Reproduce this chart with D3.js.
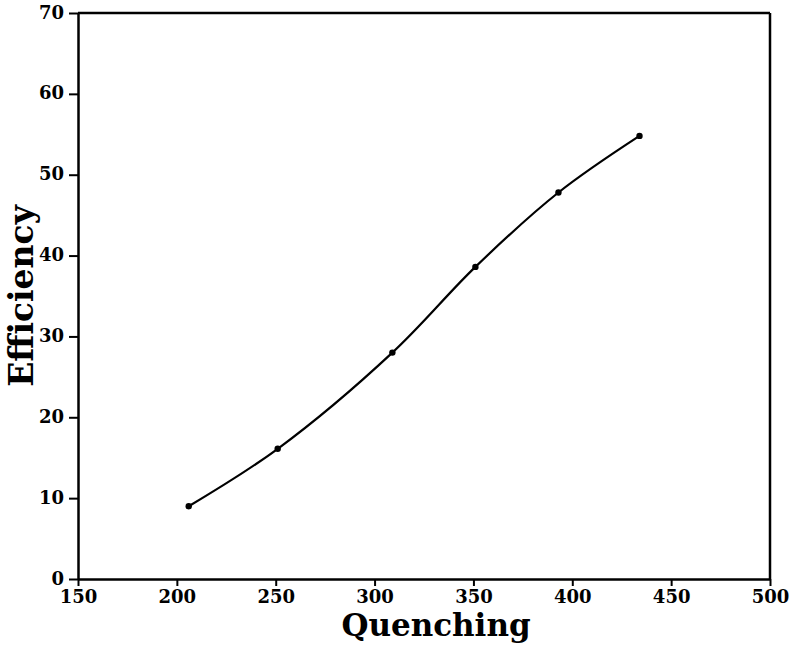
<!DOCTYPE html>
<html>
<head>
<meta charset="utf-8">
<script src="https://cdn.jsdelivr.net/npm/d3@7"></script>
<style>
  body { margin: 0; background: #fff; }
  text { font-family: "DejaVu Serif", "Liberation Serif", serif; font-weight: bold; fill: #000; }
</style>
</head>
<body>
<svg id="chart"></svg>
<script>
const quenching = [206, 251, 309, 351, 393, 434];
const efficiency = [9.0, 16.1, 28.0, 38.6, 47.8, 54.8];
const xTicks = [150, 200, 250, 300, 350, 400, 450, 500];
const yTicks = [0, 10, 20, 30, 40, 50, 60, 70];

const width = 791, height = 645;
const margin = { top: 13, right: 21, bottom: 66, left: 78 };
const w = width - margin.left - margin.right;
const h = height - margin.top - margin.bottom;

const svg = d3.select('#chart')
  .attr('width', width)
  .attr('height', height);

const g = svg.append('g')
  .attr('transform', `translate(${margin.left},${margin.top})`);

const x = d3.scaleLinear().domain([150, 500]).range([0, w]);
const y = d3.scaleLinear().domain([0, 70]).range([h, 0]);

// frame (top and right)
g.append('line').attr('x1', 0).attr('x2', w).attr('y1', 0).attr('y2', 0)
  .attr('stroke', '#000').attr('stroke-width', 2.5);
g.append('line').attr('x1', w).attr('x2', w).attr('y1', 0).attr('y2', h)
  .attr('stroke', '#000').attr('stroke-width', 2.5);

const xAxis = g.append('g')
  .attr('transform', `translate(0,${h})`)
  .call(d3.axisBottom(x).tickValues(xTicks).tickSize(7).tickPadding(4).tickSizeOuter(0));

const yAxis = g.append('g')
  .call(d3.axisLeft(y).tickValues(yTicks).tickSize(9).tickPadding(5).tickSizeOuter(0));

[xAxis, yAxis].forEach(a => {
  a.attr('font-size', null).attr('font-family', null);
  a.select('.domain').attr('stroke-width', 2.5);
  a.selectAll('.tick line').attr('stroke-width', 2);
  a.selectAll('.tick text')
    .attr('font-size', 18)
    .style('font-family', '"DejaVu Serif", serif')
    .style('font-weight', 'bold');
});
yAxis.selectAll('.tick text').attr('dy', '0.28em');

const data = quenching.map((q, i) => ({ q, e: efficiency[i] }));

const line = d3.line()
  .x(d => x(d.q))
  .y(d => y(d.e))
  .curve(d3.curveCatmullRom);

g.append('path')
  .datum(data)
  .attr('d', line)
  .attr('fill', 'none')
  .attr('stroke', '#000')
  .attr('stroke-width', 2.2);

g.selectAll('circle')
  .data(data)
  .enter()
  .append('circle')
  .attr('cx', d => x(d.q))
  .attr('cy', d => y(d.e))
  .attr('r', 3.2)
  .attr('fill', '#000');

svg.append('text')
  .attr('x', 436)
  .attr('y', 636)
  .attr('text-anchor', 'middle')
  .style('font-size', '31px')
  .text('Quenching');

svg.append('text')
  .attr('transform', 'translate(33,296) rotate(-90)')
  .attr('text-anchor', 'middle')
  .style('font-size', '33px')
  .text('Efficiency');
</script>
</body>
</html>
